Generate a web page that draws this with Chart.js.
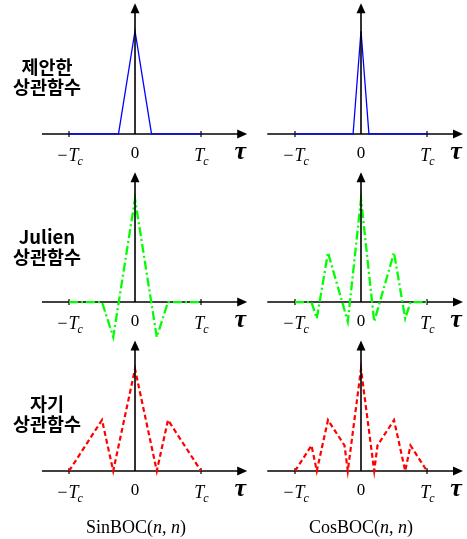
<!DOCTYPE html>
<html><head><meta charset="utf-8">
<script src="https://cdn.jsdelivr.net/npm/chart.js@4"></script>
<style>
body{margin:0;background:#fff;width:467px;height:539px;position:relative;overflow:hidden}
canvas{position:absolute}
.lab{position:absolute;font-family:"Noto Sans CJK KR",sans-serif;font-weight:700;font-size:18.5px;line-height:20px;text-align:center;color:#000;width:94px}
.bot{position:absolute;font-family:"Liberation Serif",serif;font-size:18px;text-align:center;width:160px;color:#000}
</style></head><body>
<canvas id="c11" width="225" height="170" style="left:30px;top:0px"></canvas>
<canvas id="c12" width="212" height="170" style="left:255px;top:0px"></canvas>
<canvas id="c21" width="225" height="175" style="left:30px;top:170px"></canvas>
<canvas id="c22" width="212" height="175" style="left:255px;top:170px"></canvas>
<canvas id="c31" width="225" height="170" style="left:30px;top:338px"></canvas>
<canvas id="c32" width="212" height="170" style="left:255px;top:338px"></canvas>
<div class="lab" style="left:0px;top:56px">제안한<br>상관함수</div>
<div class="lab" style="left:0px;top:226px">Julien<br>상관함수</div>
<div class="lab" style="left:0px;top:393px">자기<br>상관함수</div>
<div class="bot" style="left:56px;top:517px">SinBOC(<i>n</i>, <i>n</i>)</div>
<div class="bot" style="left:281px;top:517px">CosBOC(<i>n</i>, <i>n</i>)</div>
<script>
// ---- data (tau in units of Tc, normalized correlation) ----
const tauSinProposed = [-1, -0.25, 0, 0.25, 1];
const valSinProposed = [0, 0, 1, 0, 0];
const tauCosProposed = [-1, -0.12, 0, 0.12, 1];
const valCosProposed = [0, 0, 1, 0, 0];
const tauSinJulien = [-1, -0.5, -0.33, 0, 0.33, 0.5, 1];
const valSinJulien = [0, 0, -0.34, 1, -0.34, 0, 0];
const tauCosJulien = [-1, -0.75, -0.67, -0.5, -0.2, 0, 0.2, 0.5, 0.67, 0.75, 1];
const valCosJulien = [0, 0, -0.16, 0.48, -0.19, 1, -0.19, 0.48, -0.16, 0, 0];
const tauSinAcf = [-1, -0.5, -0.33, 0, 0.33, 0.5, 1];
const valSinAcf = [0, 0.5, 0, 1, 0, 0.5, 0];
const tauCosAcf = [-1, -0.75, -0.67, -0.5, -0.25, -0.2, 0, 0.2, 0.25, 0.5, 0.67, 0.75, 1];
const valCosAcf = [0, 0.25, 0, 0.5, 0.25, 0, 1, 0, 0.25, 0.5, 0, 0.25, 0];
const tickValues = [-1, 0, 1];
const tickMain = ['\u2212T', '0', 'T'];
const tickSub = ['c', '', 'c'];
const axisSymbol = '\u03c4';

function pts(xs, ys){ return xs.map((x,i)=>({x:x, y:ys[i]})); }

const axesPlugin = {
  id: 'axes',
  beforeDatasetsDraw(chart, args, o){
    const ctx = chart.ctx, sx = chart.scales.x, sy = chart.scales.y;
    const y0 = sy.getPixelForValue(0);
    const xa = sx.getPixelForValue(o.xStart), xt = sx.getPixelForValue(o.xTip);
    ctx.save();
    ctx.strokeStyle = '#000'; ctx.fillStyle = '#000'; ctx.lineWidth = 1.6;
    ctx.beginPath(); ctx.moveTo(xa, y0); ctx.lineTo(xt - 8, y0); ctx.stroke();
    ctx.beginPath(); ctx.moveTo(xt, y0); ctx.lineTo(xt - 10, y0 - 4.5); ctx.lineTo(xt - 10, y0 + 4.5); ctx.closePath(); ctx.fill();
    ctx.lineWidth = 1.2;
    [-1, 1].forEach(v => { const px = sx.getPixelForValue(v); ctx.beginPath(); ctx.moveTo(px, y0 - 3); ctx.lineTo(px, y0 + 3); ctx.stroke(); });
    tickValues.forEach((v, i) => {
      const px = sx.getPixelForValue(v);
      if (tickSub[i]) {
        ctx.font = 'italic 18px "Liberation Serif"';
        const w1 = ctx.measureText(tickMain[i]).width;
        ctx.font = 'italic 12px "Liberation Serif"';
        const w2 = ctx.measureText(tickSub[i]).width;
        const left = px - (w1 + w2) / 2 + 1;
        ctx.textAlign = 'left'; ctx.textBaseline = 'alphabetic';
        ctx.font = 'italic 18px "Liberation Serif"';
        ctx.fillText(tickMain[i], left, y0 + 27);
        ctx.font = 'italic 12px "Liberation Serif"';
        ctx.fillText(tickSub[i], left + w1 - 1, y0 + 31);
      } else {
        ctx.font = '17px "Liberation Serif"';
        ctx.textAlign = 'center'; ctx.textBaseline = 'alphabetic';
        ctx.fillText(tickMain[i], px, y0 + 24);
      }
    });
    ctx.font = 'italic bold 26px "Liberation Serif"';
    ctx.textAlign = 'center'; ctx.textBaseline = 'alphabetic';
    ctx.fillText(axisSymbol, xt - 7, y0 + 25);
    ctx.restore();
  },
  afterDatasetsDraw(chart, args, o){
    const ctx = chart.ctx, sx = chart.scales.x, sy = chart.scales.y;
    const y0 = sy.getPixelForValue(0), yt = sy.getPixelForValue(o.yTip);
    const x0 = sx.getPixelForValue(0);
    ctx.save();
    ctx.strokeStyle = '#000'; ctx.fillStyle = '#000'; ctx.lineWidth = 1.6;
    ctx.beginPath(); ctx.moveTo(x0, y0); ctx.lineTo(x0, yt + 8); ctx.stroke();
    ctx.beginPath(); ctx.moveTo(x0, yt); ctx.lineTo(x0 - 4.5, yt + 10); ctx.lineTo(x0 + 4.5, yt + 10); ctx.closePath(); ctx.fill();
    ctx.restore();
  }
};

function make(id, data, color, width, dash, xr, yr, ax){
  new Chart(document.getElementById(id), {
    type: 'scatter',
    data: { datasets: [{ data: data, showLine: true, borderColor: color, borderWidth: width, borderDash: dash,
      pointRadius: 0, tension: 0, fill: false }] },
    options: {
      responsive: false, animation: false, events: [],
      layout: { padding: 0 },
      scales: {
        x: { type: 'linear', display: false, min: xr[0], max: xr[1] },
        y: { type: 'linear', display: false, min: yr[0], max: yr[1] }
      },
      plugins: { legend: { display: false }, tooltip: { enabled: false }, axes: ax }
    },
    plugins: [axesPlugin]
  });
}
const xL = [-1.591, 1.818], xR = [-1.606, 1.606];
const axL = { xStart: -1.41, xTip: 1.70 }, axR = { xStart: -1.42, xTip: 1.545 };
const y1 = [-0.350, 1.301], y2 = [-0.417, 1.282], y3 = [-0.363, 1.304];
const blue = '#0000ff', green = '#00ff00', red = '#ff0000';
const dashDot = [9, 3, 2, 3], dashed = [5, 3];
make('c11', pts(tauSinProposed, valSinProposed), blue, 1.3, [], xL, y1, Object.assign({ yTip: 1.27 }, axL));
make('c12', pts(tauCosProposed, valCosProposed), blue, 1.3, [], xR, y1, Object.assign({ yTip: 1.27 }, axR));
make('c21', pts(tauSinJulien, valSinJulien), green, 2.3, dashDot, xL, y2, Object.assign({ yTip: 1.26 }, axL));
make('c22', pts(tauCosJulien, valCosJulien), green, 2.3, dashDot, xR, y2, Object.assign({ yTip: 1.26 }, axR));
make('c31', pts(tauSinAcf, valSinAcf), red, 2.2, dashed, xL, y3, Object.assign({ yTip: 1.28 }, axL));
make('c32', pts(tauCosAcf, valCosAcf), red, 2.2, dashed, xR, y3, Object.assign({ yTip: 1.28 }, axR));
</script>
</body></html>
